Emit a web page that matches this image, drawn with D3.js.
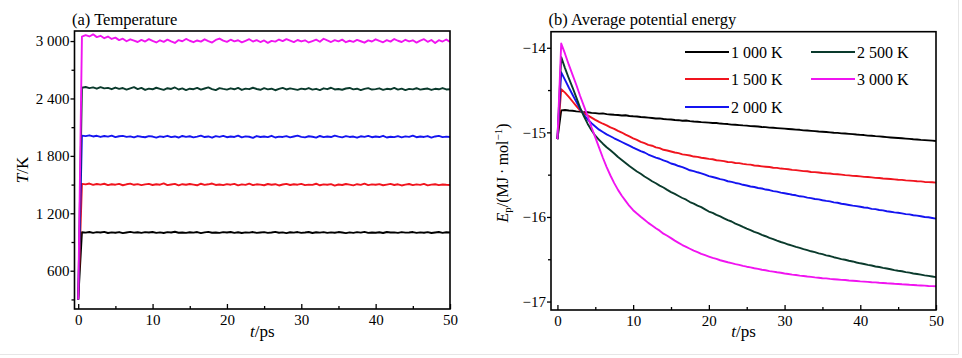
<!DOCTYPE html>
<html><head><meta charset="utf-8">
<script src="https://cdn.jsdelivr.net/npm/d3@7/dist/d3.min.js"></script>
<style>
body{margin:0;background:#fff}
svg text{font-family:"Liberation Serif","Times New Roman",serif;fill:#000}
</style>
</head><body>
<svg id="chart" width="962" height="358"></svg>
<script>
// ---------- data ----------
const times = [0,0.5,1,1.5,2,2.5,3,3.5,4,4.5,5,5.5,6,6.5,7,7.5,8,8.5,9,9.5,
10,10.5,11,11.5,12,12.5,13,13.5,14,14.5,15,15.5,16,16.5,17,17.5,18,18.5,19,19.5,
20,20.5,21,21.5,22,22.5,23,23.5,24,24.5,25,25.5,26,26.5,27,27.5,28,28.5,29,29.5,
30,30.5,31,31.5,32,32.5,33,33.5,34,34.5,35,35.5,36,36.5,37,37.5,38,38.5,39,39.5,
40,40.5,41,41.5,42,42.5,43,43.5,44,44.5,45,45.5,46,46.5,47,47.5,48,48.5,49,49.5,50];

const seriesNames = ["1 000 K","1 500 K","2 000 K","2 500 K","3 000 K"];

// (a) temperature, K
const tempK1000 = [300,1002,998,1005,996,1003,999,1006,994,1001,
997,1004,993,1000,1006,998,1002,995,1003,999,
1005,996,1001,994,1003,999,1007,997,1000,995,
1002,998,1004,993,1001,1006,997,1000,995,1003,
999,1005,996,1002,994,1001,998,1004,996,1000,
1003,995,999,1006,997,1001,993,1002,998,1004,
996,1000,1005,994,1002,998,1003,995,1001,997,
1004,999,993,1001,996,1003,998,1006,995,1000,
997,1002,994,1005,999,1001,996,1003,998,1000,
1004,995,1001,997,1003,994,1000,1005,996,1002,999];
const tempK1500 = [300,1508,1502,1511,1497,1506,1500,1509,1495,1504,
1499,1507,1493,1503,1510,1498,1505,1494,1502,1508,
1496,1503,1499,1512,1495,1501,1507,1492,1504,1498,
1506,1500,1493,1509,1497,1503,1511,1496,1501,1494,
1505,1499,1508,1492,1502,1497,1510,1495,1503,1500,
1493,1506,1498,1504,1491,1501,1508,1496,1503,1499,
1507,1494,1500,1497,1509,1493,1502,1498,1505,1490,
1501,1496,1506,1499,1492,1504,1497,1510,1495,1502,
1498,1505,1493,1500,1507,1496,1503,1491,1499,1506,
1494,1502,1497,1508,1492,1500,1504,1495,1501,1498,1496];
const tempK2000 = [300,2012,2006,2015,2003,2010,1998,2008,2001,2011,
1996,2005,2009,1999,2004,1993,2007,2000,1995,2006,
2002,1991,2004,1998,2010,1996,2003,1992,2008,1999,
2005,1994,2001,2011,1997,2003,1990,2006,1999,2009,
1995,2002,1998,2012,1993,2004,2000,1989,2007,1997,
2003,1996,2010,1992,2001,1998,2006,1994,2003,2011,
1999,1993,2005,2000,1991,2008,1996,2003,1997,2012,
2001,1994,2006,1998,2002,1990,2005,1999,2009,1995,
2003,1997,2010,1992,2000,1996,2006,1993,2004,1999,
2011,1995,2002,1998,2007,1991,2003,2009,1996,2001,1997];
const tempK2500 = [300,2512,2520,2508,2516,2502,2519,2505,2511,2497,
2514,2500,2509,2493,2506,2518,2498,2510,2489,2503,
2496,2512,2501,2490,2507,2499,2515,2494,2505,2488,
2502,2497,2511,2492,2504,2516,2498,2487,2508,2500,
2493,2506,2496,2510,2489,2503,2497,2512,2499,2491,
2508,2495,2502,2486,2500,2511,2494,2505,2498,2490,
2503,2496,2509,2492,2501,2488,2506,2497,2512,2494,
2499,2491,2504,2510,2495,2502,2487,2500,2508,2493,
2498,2506,2490,2501,2496,2511,2493,2503,2488,2500,
2495,2507,2492,2499,2504,2489,2501,2496,2509,2494,2497];
const tempK3000 = [300,3045,3062,3048,3070,3041,3055,3030,3047,3022,
3036,3010,3025,2998,3018,3004,2990,3012,2995,3020,
3001,2985,3008,2992,3015,2996,2980,3010,2998,3022,
3003,2988,3006,2994,3018,3000,2984,3012,3026,3005,
2992,3014,2997,3008,2986,3003,3019,2995,3010,2990,
3006,2981,3002,2994,3016,2999,3020,3004,2989,3011,
2996,3008,2985,3000,3014,2993,3024,3006,2990,3009,
2997,3015,2988,3003,2992,3012,2998,2983,3007,2995,
3018,3001,2987,3010,2994,3021,3003,2990,3013,2996,
3008,2984,3005,3019,2992,3011,2980,3009,2995,3016,2990];

// (b) average potential energy, MJ/mol
const energyK1000 = [-15.08,-14.74,-14.735,-14.742,-14.745,-14.752,-14.755,-14.763,-14.762,-14.770,
-14.773,-14.778,-14.776,-14.785,-14.788,-14.792,-14.794,-14.800,-14.798,-14.806,
-14.810,-14.812,-14.819,-14.822,-14.826,-14.830,-14.836,-14.835,-14.842,-14.846,
-14.848,-14.854,-14.856,-14.862,-14.860,-14.867,-14.872,-14.874,-14.879,-14.882,
-14.885,-14.890,-14.889,-14.896,-14.900,-14.902,-14.908,-14.910,-14.914,-14.918,
-14.920,-14.926,-14.928,-14.931,-14.937,-14.938,-14.944,-14.946,-14.950,-14.953,
-14.956,-14.960,-14.963,-14.968,-14.970,-14.976,-14.978,-14.982,-14.986,-14.990,
-14.992,-14.996,-15.000,-15.004,-15.006,-15.012,-15.014,-15.018,-15.021,-15.026,
-15.030,-15.032,-15.038,-15.040,-15.045,-15.048,-15.052,-15.056,-15.060,-15.063,
-15.066,-15.070,-15.074,-15.077,-15.082,-15.084,-15.089,-15.092,-15.095,-15.098,-15.102];
const energyK1500 = [-15.08,-14.49,-14.53,-14.58,-14.635,-14.69,-14.74,-14.772,-14.800,-14.826,
-14.852,-14.876,-14.898,-14.918,-14.942,-14.958,-14.982,-15.002,-15.026,-15.048,
-15.070,-15.088,-15.112,-15.128,-15.148,-15.158,-15.178,-15.186,-15.206,-15.214,
-15.226,-15.238,-15.246,-15.260,-15.266,-15.274,-15.286,-15.290,-15.300,-15.306,
-15.314,-15.318,-15.330,-15.334,-15.340,-15.350,-15.352,-15.362,-15.364,-15.372,
-15.378,-15.382,-15.392,-15.394,-15.402,-15.406,-15.410,-15.418,-15.420,-15.428,
-15.432,-15.436,-15.444,-15.446,-15.452,-15.458,-15.460,-15.468,-15.470,-15.474,
-15.480,-15.484,-15.486,-15.494,-15.496,-15.500,-15.506,-15.508,-15.514,-15.516,
-15.520,-15.526,-15.528,-15.532,-15.538,-15.540,-15.546,-15.548,-15.552,-15.556,
-15.560,-15.562,-15.568,-15.570,-15.574,-15.578,-15.580,-15.586,-15.588,-15.590,-15.594];
const energyK2000 = [-15.08,-14.29,-14.38,-14.47,-14.555,-14.64,-14.725,-14.792,-14.848,-14.892,
-14.930,-14.968,-14.996,-15.024,-15.046,-15.070,-15.092,-15.114,-15.136,-15.158,
-15.180,-15.200,-15.222,-15.238,-15.262,-15.280,-15.298,-15.312,-15.332,-15.346,
-15.368,-15.380,-15.398,-15.410,-15.428,-15.448,-15.458,-15.472,-15.484,-15.500,
-15.518,-15.528,-15.540,-15.552,-15.562,-15.578,-15.586,-15.598,-15.606,-15.620,
-15.628,-15.640,-15.646,-15.658,-15.664,-15.676,-15.682,-15.694,-15.700,-15.712,
-15.720,-15.728,-15.738,-15.744,-15.756,-15.760,-15.772,-15.778,-15.788,-15.792,
-15.802,-15.810,-15.816,-15.828,-15.832,-15.844,-15.850,-15.858,-15.866,-15.872,
-15.880,-15.888,-15.892,-15.904,-15.908,-15.918,-15.922,-15.932,-15.938,-15.946,
-15.950,-15.958,-15.966,-15.970,-15.980,-15.984,-15.992,-16.000,-16.004,-16.012,-16.020];
const energyK2500 = [-15.08,-14.11,-14.24,-14.36,-14.47,-14.59,-14.71,-14.81,-14.90,-14.975,
-15.040,-15.088,-15.134,-15.176,-15.212,-15.250,-15.292,-15.326,-15.362,-15.398,
-15.430,-15.462,-15.490,-15.522,-15.548,-15.578,-15.602,-15.630,-15.652,-15.680,
-15.706,-15.728,-15.752,-15.776,-15.796,-15.824,-15.842,-15.866,-15.884,-15.910,
-15.936,-15.952,-15.976,-15.994,-16.016,-16.038,-16.054,-16.078,-16.096,-16.118,
-16.138,-16.156,-16.176,-16.192,-16.212,-16.228,-16.248,-16.262,-16.280,-16.296,
-16.310,-16.326,-16.338,-16.354,-16.366,-16.380,-16.392,-16.406,-16.416,-16.430,
-16.440,-16.454,-16.462,-16.476,-16.486,-16.498,-16.506,-16.518,-16.526,-16.538,
-16.548,-16.556,-16.566,-16.574,-16.586,-16.592,-16.602,-16.610,-16.618,-16.628,
-16.636,-16.642,-16.652,-16.658,-16.668,-16.674,-16.682,-16.690,-16.696,-16.704,-16.712];
const energyK3000 = [-15.08,-13.95,-14.07,-14.20,-14.32,-14.44,-14.57,-14.69,-14.81,-14.94,
-15.06,-15.18,-15.30,-15.41,-15.51,-15.60,-15.68,-15.75,-15.81,-15.87,
-15.920,-15.960,-15.998,-16.034,-16.070,-16.102,-16.134,-16.162,-16.198,-16.222,
-16.250,-16.280,-16.306,-16.332,-16.354,-16.376,-16.398,-16.416,-16.436,-16.452,
-16.468,-16.484,-16.496,-16.512,-16.524,-16.536,-16.546,-16.558,-16.566,-16.578,
-16.588,-16.596,-16.606,-16.614,-16.624,-16.630,-16.640,-16.646,-16.654,-16.660,
-16.668,-16.674,-16.682,-16.686,-16.694,-16.698,-16.704,-16.708,-16.714,-16.718,
-16.724,-16.726,-16.732,-16.736,-16.740,-16.744,-16.746,-16.752,-16.754,-16.758,
-16.762,-16.764,-16.768,-16.772,-16.774,-16.778,-16.780,-16.784,-16.786,-16.790,
-16.792,-16.796,-16.798,-16.802,-16.804,-16.808,-16.810,-16.812,-16.816,-16.818,-16.820];

const timeTicks = [0,10,20,30,40,50];
const timeMinorTicks = [5,15,25,35,45];
const tempTicks = [600,1200,1800,2400,3000];
const tempTickLabels = ["600","1 200","1 800","2 400","3 000"];
const tempMinorTicks = [300,900,1500,2100,2700];
const energyTicks = [-17,-16,-15,-14];
const energyTickLabels = ["\u221217","\u221216","\u221215","\u221214"];
const energyMinorTicks = [-16.5,-15.5,-14.5];

// ---------- styles ----------
const colors = ["#000000","#f0141e","#1414f0","#0a3a2c","#f014f0"];
const FONT = '"Liberation Serif","Times New Roman",serif';

const svg = d3.select("#chart");
// faint outer frame
svg.append("line").attr("x1",958.5).attr("x2",958.5).attr("y1",0).attr("y2",354).attr("stroke","#e6e6e6");
svg.append("line").attr("x1",0).attr("x2",958.5).attr("y1",354.5).attr("y2",354.5).attr("stroke","#e6e6e6");

function panel(opt){
  const {x, y, id} = opt;
  const [x0,x1] = x.range(), [y0,y1] = y.range();
  const g = svg.append("g");
  g.append("clipPath").attr("id",id).append("rect")
    .attr("x",x0).attr("y",y1).attr("width",x1-x0).attr("height",y0-y1);
  const lines = g.append("g").attr("clip-path",`url(#${id})`);
  const line = d3.line().x((d,i)=>x(times[i])).y(d=>y(d));
  opt.series.forEach((s,k)=>{
    lines.append("path").attr("d",line(s)).attr("fill","none")
      .attr("stroke",colors[k]).attr("stroke-width",1.9).attr("stroke-linejoin","round");
  });
  // axes
  g.append("g").attr("transform",`translate(0,${y0})`)
    .call(d3.axisBottom(x).tickValues(timeTicks).tickSize(-5).tickPadding(5).tickFormat(d3.format("d")));
  g.append("g").attr("transform",`translate(0,${y0})`)
    .call(d3.axisBottom(x).tickValues(timeMinorTicks).tickSize(-3).tickFormat(""));
  g.append("g").attr("transform",`translate(${x0},0)`)
    .call(d3.axisLeft(y).tickValues(opt.yTicks).tickSize(4).tickPadding(1)
      .tickFormat((d,i)=>opt.yLabels[i]));
  g.append("g").attr("transform",`translate(${x0},0)`)
    .call(d3.axisLeft(y).tickValues(opt.yMinor).tickSize(3).tickFormat(""));
  g.selectAll(".domain").remove();
  g.selectAll(".tick line").attr("stroke","#000").attr("stroke-width",1.3);
  g.selectAll("g").attr("font-family",FONT);
  g.selectAll(".tick text").style("font-family",FONT).style("font-size","15px").attr("fill","#000");
  // frame
  g.append("rect").attr("x",x0).attr("y",y1).attr("width",x1-x0).attr("height",y0-y1)
    .attr("fill","none").attr("stroke","#000").attr("stroke-width",1.6);
  // title
  g.append("text").attr("x",x0-2.5).attr("y",25).style("font-size","16.5px").text(opt.title);
  // x label
  const xl = g.append("text").attr("x",(x0+x1)/2).attr("y",336.5).attr("text-anchor","middle").style("font-size","17px");
  xl.append("tspan").style("font-style","italic").text("t");
  xl.append("tspan").text("/ps");
  return g;
}

const xA = d3.scaleLinear().domain([-0.5,50]).range([74.5,450]);
const yA = d3.scaleLinear().domain([200,3105]).range([309,31]);
const gA = panel({id:"clipA", x:xA, y:yA, series:[tempK1000,tempK1500,tempK2000,tempK2500,tempK3000],
  yTicks:tempTicks, yLabels:tempTickLabels, yMinor:tempMinorTicks, title:"(a) Temperature"});
const ylA = gA.append("text").attr("transform","translate(28,170) rotate(-90)").attr("text-anchor","middle").style("font-size","17px");
ylA.append("tspan").style("font-style","italic").text("T");
ylA.append("tspan").text("/K");

const xB = d3.scaleLinear().domain([-0.85,50]).range([551,936]);
const yB = d3.scaleLinear().domain([-17.1,-13.81]).range([310,31.7]);
const gB = panel({id:"clipB", x:xB, y:yB, series:[energyK1000,energyK1500,energyK2000,energyK2500,energyK3000],
  yTicks:energyTicks, yLabels:energyTickLabels, yMinor:energyMinorTicks, title:"(b) Average potential energy"});
const ylB = gB.append("text").attr("transform","translate(508,173) rotate(-90)").attr("text-anchor","middle").style("font-size","16px");
ylB.append("tspan").style("font-style","italic").text("E");
ylB.append("tspan").attr("dy",3).style("font-size","11px").text("p");
ylB.append("tspan").attr("dy",-3).text("/(MJ\u2009\u00b7\u2009mol");
ylB.append("tspan").attr("dy",-6).style("font-size","11px").text("\u22121");
ylB.append("tspan").attr("dy",6).text(")");

// legend
const legendPos = [[685,52],[685,79],[685,107],[811,52],[811,79]];
const lg = gB.append("g");
seriesNames.forEach((name,k)=>{
  const [lx,ly] = legendPos[k];
  lg.append("line").attr("x1",lx).attr("x2",lx+44).attr("y1",ly).attr("y2",ly)
    .attr("stroke",colors[k]).attr("stroke-width",1.9);
  lg.append("text").attr("x",lx+46).attr("y",ly+6).style("font-size","16px").text(name);
});
</script>
</body></html>
